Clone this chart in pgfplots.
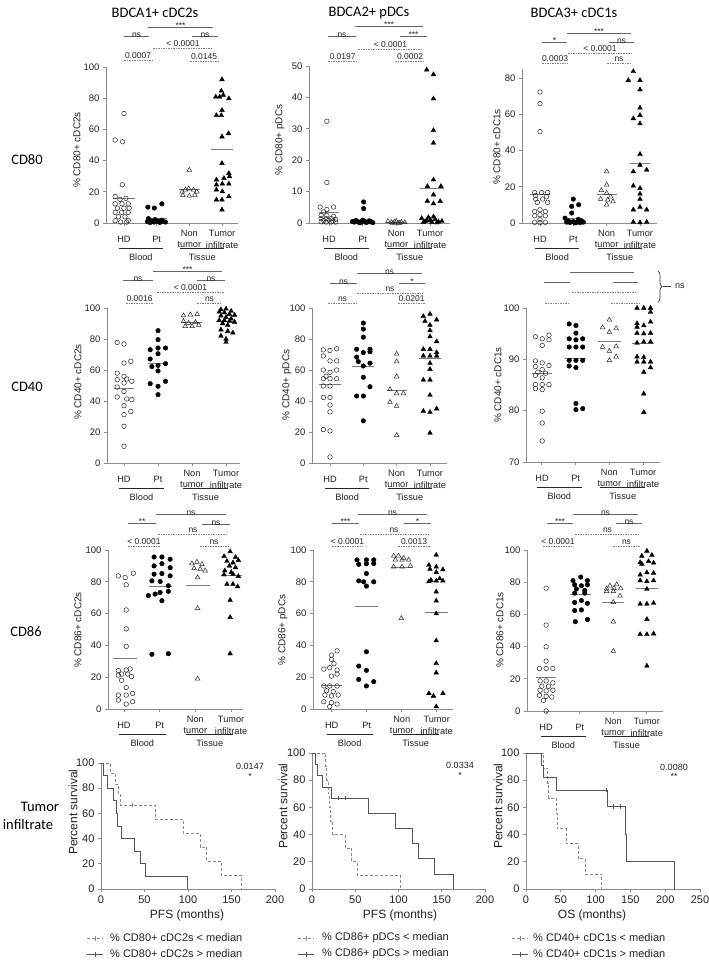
\documentclass[border=0pt]{standalone}
\usepackage{pgfplots}
\pgfplotsset{compat=1.18}
\usepackage{fontspec}
\setmainfont{Liberation Sans}
\newfontfamily\calib{Carlito}
\usetikzlibrary{decorations.pathreplacing}
\definecolor{axgray}{HTML}{8C8C8C}
\definecolor{txt}{HTML}{222222}
\definecolor{medgray}{HTML}{7A7A7A}
\definecolor{kmsolid}{HTML}{555555}
\definecolor{kmdash}{HTML}{8A8A8A}
\pgfplotsset{
  base/.style={scale only axis, anchor=south west, axis x line*=bottom, axis y line*=left,
    axis line style={-, draw=axgray, line width=0.8pt},
    tick style={draw=axgray, line width=0.8pt}, tick align=outside, major tick length=3pt,
    clip=false, /pgf/number format/assume math mode=true,
    tick label style={text=txt}},
  dot/.style={base, xtick={0,1,2,3}, xticklabels={}, yticklabel style={font=\fontsize{9.5}{10}\selectfont}},
  km/.style={base, xmin=0, ymin=0, ymax=100, ytick={0,20,...,100},
    tick label style={font=\fontsize{11}{12}\selectfont}},
  hd/.style={only marks, black, mark=o, mark size=2.3pt, mark options={draw=black!85, line width=0.5pt}},
  ptp/.style={only marks, black, mark=*, mark size=2.3pt, mark options={fill=black, draw=black}},
  nt/.style={only marks, black, mark=triangle, mark size=2.7pt, mark options={draw=black!85, line width=0.5pt}},
  tu/.style={only marks, black, mark=triangle*, mark size=2.7pt, mark options={fill=black, draw=black}},
  med/.style={draw=medgray, line width=0.7pt, mark=none},
  kms/.style={const plot, draw=kmsolid, line width=0.8pt, mark=none},
  kmd/.style={const plot, draw=kmdash, line width=0.8pt, dash pattern=on 3pt off 2pt, mark=none},
  cens/.style={only marks, mark=|, mark size=2.2pt, mark options={line width=0.6pt, solid}},
}
\tikzset{
  sigline/.style={draw=black!60, line width=0.6pt},
  sigdash/.style={draw=black!50, line width=0.6pt, dash pattern=on 1.5pt off 1pt},
  ann/.style={font=\fontsize{8.5}{9}\selectfont, text=txt, inner sep=0pt},
  xl/.style={font=\fontsize{9.2}{10}\selectfont, text=txt, inner sep=0pt},
  grp/.style={draw=black!85, line width=1pt},
  ylab/.style={rotate=90, font=\fontsize{10}{11}\selectfont, text=txt, inner sep=0pt},
  ttl/.style={font=\calib\fontsize{14.5}{16}\selectfont, text=black, inner sep=0pt},
}
\newcommand{\sigs}[4]{\draw[sigline] (#1,#3) -- (#2,#3); \node[ann, anchor=base] at ({(#1+#2)/2},{#3+1}) {#4};}
\newcommand{\sigd}[4]{\draw[sigdash] (#1,#3) -- (#2,#3); \node[ann, anchor=base] at ({(#1+#2)/2},{#3-1.5}) {#4};}
\newcommand{\catlab}[3]{%
  \node[xl] at (#2,{#1+16}) {HD};
  \node[xl] at ({#2+#3},{#1+16}) {Pt};
  \node[xl] at ({#2+2*#3},{#1+10.5}) {Non};
  \node[xl] at ({#2+2*#3},{#1+22}) {tumor};
  \node[xl] at ({#2+3*#3},{#1+10.5}) {Tumor};
  \node[xl] at ({#2+3*#3},{#1+22}) {infiltrate};
  \draw[grp] ({#2-5},{#1+25}) -- ({#2+#3+6},{#1+25});
  \draw[grp] ({#2+2*#3-9},{#1+25}) -- ({#2+3*#3+2},{#1+25});
  \node[xl] at ({#2+#3/2+0.5},{#1+34}) {Blood};
  \node[xl] at ({#2+2.5*#3-3.5},{#1+34}) {Tissue};}
\begin{document}
\begin{tikzpicture}
\useasboundingbox (0pt,0pt) rectangle (709pt,-962pt);
% ---------------- Row 1: CD80 ----------------
\begin{axis}[dot, at={(106pt,-223pt)}, width=132pt, height=156pt, xmin=-0.55, xmax=3.49, ymin=0, ymax=100, ytick={0,20,...,100}]
\addplot[hd] coordinates {(0,70.2) (-0.27,53.2) (-0.04,52.1) (-0.05,24.5) (-0.27,17) (-0.12,15.2) (0.06,15.8) (-0.27,12.3) (-0.06,12.3) (0.13,12.3) (-0.2,9.5) (0,9.5) (0.16,9.5) (-0.27,6.8) (-0.07,6.8) (0.13,6.8) (-0.17,4) (0.03,4) (-0.27,1.5) (0.13,1.5) (-0.1,0.6) (0.08,0.6)};
\addplot[med] coordinates {(-0.33,15.5) (0.33,15.5)};
\addplot[ptp] coordinates {(0.73,10.2) (0.93,9.6) (1.16,12.3) (0.75,2.8) (0.85,1.2) (0.95,2.2) (1.05,0.8) (1.15,1.8) (1.27,0.6) (0.8,0.3) (0.92,0.6) (1.0,1.5) (1.1,0.4) (1.2,1.0) (0.72,0.9)};
\addplot[med] coordinates {(0.67,2.8) (1.33,2.8)};
\addplot[nt] coordinates {(2,34) (1.78,20) (1.88,21.3) (1.98,22) (2.13,21.3) (2.23,20) (1.8,17.7) (2,17.4) (2.17,18)};
\addplot[med] coordinates {(1.67,21.7) (2.33,21.7)};
\addplot[tu] coordinates {(3,92) (2.98,84.7) (2.81,80.9) (2.93,80.9) (3.04,82) (3.21,79.8) (3,72.3) (2.83,69) (2.98,69) (3,55.3) (3.2,57.4) (3,38.3) (2.83,27.7) (3.06,28.7) (3.21,31.9) (3.23,29.8) (2.83,24.5) (3.01,25.1) (3.21,25.1) (2.83,21.3) (3.01,20.2) (2.83,14.9) (3,14.9) (3.21,17) (3,8.5)};
\addplot[med] coordinates {(2.67,47.2) (3.33,47.2)};
\end{axis}
\begin{axis}[dot, at={(309pt,-223pt)}, width=141pt, height=157pt, xmin=-0.59, xmax=3.59, ymin=0, ymax=50, ytick={0,10,...,50}]
\addplot[hd] coordinates {(-0.06,32.4) (-0.06,12.9) (-0.26,5.1) (-0.06,4.3) (0.14,5.1) (-0.16,3.5) (-0.23,2.4) (-0.06,2.4) (0.14,2.1) (-0.23,1.4) (-0.08,1.4) (0.07,1.4) (0.2,1.2) (-0.23,0.4) (-0.08,0.3) (0.07,0.3) (0.2,0.3) (-0.15,0.8) (0,0.9) (0.12,0.6)};
\addplot[med] coordinates {(-0.3,3.3) (0.3,3.3)};
\addplot[ptp] coordinates {(1.03,6.7) (1.03,4.6) (0.75,0.3) (0.85,0.5) (0.95,0.2) (1.05,0.6) (1.15,0.3) (1.25,0.4) (0.8,0.8) (0.9,0.1) (1,0.9) (1.1,0.2) (1.2,0.7) (1.3,0.1) (0.7,0.5)};
\addplot[med] coordinates {(0.7,0.4) (1.3,0.4)};
\addplot[nt] coordinates {(1.75,0.6) (1.85,0.2) (1.95,0.4) (2.05,0.1) (2.15,0.3) (2.25,0.2) (1.9,0) (2,0.5) (2.1,0)};
\addplot[med] coordinates {(1.7,0.2) (2.3,0.2)};
\addplot[tu] coordinates {(2.9,48.8) (3.1,47.3) (3.1,39.6) (3.1,29.5) (3.1,25.5) (3.1,13.8) (2.92,11.7) (3.32,11.7) (3.1,9) (2.92,7) (3.1,6.2) (3.3,6.9) (2.75,1.5) (2.85,0.5) (2.95,1.8) (3.05,0.3) (3.15,1.2) (3.25,0.4) (2.8,0.2) (3,0.9) (3.1,2) (3.2,0.1) (3.35,0.6) (2.9,0.8)};
\addplot[med] coordinates {(2.7,11.1) (3.42,11.1)};
\end{axis}
\begin{axis}[dot, at={(522pt,-223pt)}, width=135pt, height=154pt, xmin=-0.54, xmax=3.51, ymin=0, ymax=85, ytick={0,20,...,80}]
\addplot[hd] coordinates {(0,72.3) (0,65.9) (0,50.4) (-0.16,16.8) (0.05,16.8) (0.23,16.8) (-0.13,15.2) (0.19,14.5) (-0.13,13.2) (0.08,13.2) (0.23,11.4) (-0.08,11.4) (0,7.3) (-0.16,6.4) (0.16,6.4) (0,4.6) (-0.16,4) (0.16,4) (0,1.8) (-0.16,0.4) (0.16,0.4) (0,0.2)};
\addplot[med] coordinates {(-0.3,15.6) (0.3,15.6)};
\addplot[ptp] coordinates {(1,13.2) (0.95,9.2) (1.16,10.1) (0.95,5.5) (0.75,2.7) (1.15,2) (0.8,0.5) (0.9,0.3) (1,0.8) (1.1,0.4) (1.2,0.2) (1.25,1) (0.85,1.2) (1.05,0.1) (1.3,0.5)};
\addplot[med] coordinates {(0.7,2.7) (1.3,2.7)};
\addplot[nt] coordinates {(2,28.4) (2,21.1) (1.84,18) (2,16.5) (1.82,13.2) (2.03,12.8) (2.19,11.9) (2,10.1) (2.12,14.5)};
\addplot[med] coordinates {(1.7,15.9) (2.3,15.9)};
\addplot[tu] coordinates {(2.8,83.7) (2.65,78.8) (3,78.8) (3,73.6) (3,63.6) (3,59.5) (2.8,57.7) (3,54.9) (3,38) (3,32) (2.8,28.4) (3.2,29.3) (2.8,20.5) (3,19.2) (3,16.1) (3,13.2) (2.8,7.3) (3,8.8) (3.2,7.3) (2.8,0.5) (3,0.2) (3.2,0.5)};
\addplot[med] coordinates {(2.7,33) (3.3,33)};
\end{axis}
% ---------------- Row 2: CD40 ----------------
\begin{axis}[dot, at={(107pt,-463pt)}, width=133pt, height=155pt, xmin=-0.5, xmax=3.41, ymin=0, ymax=100, ytick={0,20,...,100}]
\addplot[hd] coordinates {(-0.2,77.8) (0,76.8) (0,64.5) (0.2,65.6) (-0.2,58) (0,55.9) (-0.2,53.8) (0.08,54.2) (0.23,52.7) (-0.2,49) (0,51.6) (0,46.2) (-0.2,42.6) (0.08,41.3) (0.23,40.9) (0,37) (0,31.2) (0.2,33.3) (0,23.7) (0,10.8)};
\addplot[med] coordinates {(-0.3,48.4) (0.3,48.4)};
\addplot[ptp] coordinates {(1,85.4) (1,79.6) (0.77,73.1) (1,74.2) (1.22,74.2) (1,70.5) (0.77,67.1) (0.82,62.2) (1,63) (1.22,64.1) (1,59.4) (0.77,51.2) (1.22,52.7) (1,49.5) (1,44.1)};
\addplot[med] coordinates {(0.7,64.1) (1.3,64.1)};
\addplot[nt] coordinates {(1.75,95.1) (1.95,95.7) (2.15,96) (1.75,91.4) (1.9,90.3) (2.1,90.8) (1.8,88.2) (2,88.2) (2.2,89)};
\addplot[med] coordinates {(1.7,90.8) (2.3,90.8)};
\addplot[tu] coordinates {(2.85,99) (3,99.5) (3.15,98) (2.8,97.5) (2.95,97) (3.1,96) (3.25,95.5) (2.85,95) (3,94) (3.15,93) (2.8,92) (2.95,92) (3.1,91.5) (3.25,91) (2.9,90) (3.05,89) (2.85,86) (3.05,85) (3.2,84) (2.85,82) (3,80) (3,78)};
\addplot[med] coordinates {(2.7,91.7) (3.3,91.7)};
\end{axis}
\begin{axis}[dot, at={(312pt,-463pt)}, width=135pt, height=155pt, xmin=-0.54, xmax=3.51, ymin=0, ymax=100, ytick={0,20,...,100}]
\addplot[hd] coordinates {(-0.2,73) (0,72.6) (0.2,73.7) (-0.2,69.1) (0,65.9) (0.2,65.9) (-0.2,60) (0,58.5) (0.2,60) (-0.12,56) (-0.2,54.4) (0,54.4) (0.2,54.4) (-0.2,49.7) (0,49.7) (-0.2,42.3) (0,42.3) (0,37.4) (0,33) (-0.2,21.6) (0,20.7) (0,3.9)};
\addplot[med] coordinates {(-0.33,50.8) (0.33,50.8)};
\addplot[ptp] coordinates {(1,90.3) (1,86.4) (1,81.2) (0.8,73.4) (1.2,73.4) (1.2,71.8) (1,71.3) (0.8,68.3) (0.85,65.4) (1.2,64.4) (1,62.6) (1,55.3) (1.2,49.2) (0.8,43.2) (1,43.2) (1,27.2)};
\addplot[med] coordinates {(0.67,62.6) (1.33,62.6)};
\addplot[nt] coordinates {(2,70.4) (2,65.4) (2,55.7) (1.8,47.5) (2,44.9) (2.2,44.9) (1.8,39.3) (2,36.7) (2,17.9)};
\addplot[med] coordinates {(1.7,47) (2.3,47)};
\addplot[tu] coordinates {(2.8,94.6) (3,96.1) (3.2,92.4) (3,89) (3,85.5) (3,81.6) (3.2,78.4) (2.8,73.4) (3,73.4) (3.2,71.3) (2.8,69.1) (3,69.1) (3.2,69.1) (3,64.4) (3,60.5) (2.8,53.6) (3,53.6) (3,43.8) (2.8,33.5) (3,32.8) (3.2,35) (3,19.4) (2.85,91.5)};
\addplot[med] coordinates {(2.67,67.4) (3.33,67.4)};
\end{axis}
\begin{axis}[dot, at={(526pt,-462pt)}, width=134pt, height=154pt, xmin=-0.47, xmax=3.5, ymin=70, ymax=100, ytick={70,80,90,100}]
\addplot[hd] coordinates {(-0.19,94.4) (0.01,94) (0.21,94.7) (0.21,93.8) (0.01,92.7) (-0.19,89.7) (0.01,89.3) (0.21,88.8) (-0.19,88.6) (0.01,88) (-0.12,87.5) (0.11,87.3) (-0.19,86.9) (0.01,86.4) (-0.19,85.1) (0.01,85.1) (0.21,85.1) (-0.19,84.3) (0.01,84.1) (0.01,79.9) (0.01,77.6) (0.01,74.1)};
\addplot[med] coordinates {(-0.3,87.3) (0.3,87.3)};
\addplot[ptp] coordinates {(0.81,96.9) (1.01,96.6) (1.01,95.1) (0.81,94) (1.01,93.8) (1.21,94) (0.81,92.4) (1.01,92.4) (1.21,92.4) (0.81,89.8) (1.01,89.8) (1.21,89.8) (1.01,88.4) (0.81,88.7) (1.01,81.4) (1.01,80.2) (1.21,80.4)};
\addplot[med] coordinates {(0.7,90.1) (1.3,90.1)};
\addplot[nt] coordinates {(2,97.7) (1.8,96.2) (2,95.3) (2.2,96) (1.8,92.4) (2,91.6) (2.2,92.5) (2,89.8) (2.2,90.5)};
\addplot[med] coordinates {(1.67,93.6) (2.33,93.6)};
\addplot[tu] coordinates {(2.82,100) (3.02,100) (3.22,100) (3.22,99.2) (2.82,97) (3.22,97.3) (2.82,96.3) (3.02,96.6) (2.82,95.1) (3.02,95) (3.22,95.1) (2.82,93.2) (3.02,93.4) (3.22,93.4) (2.82,90.5) (3.02,90.4) (2.82,89.5) (3.02,89.5) (3.22,89.5) (3.22,88.4) (3.02,87.5) (3.02,83.3) (3.02,79.7)};
\addplot[med] coordinates {(2.67,93.2) (3.33,93.2)};
\end{axis}
% ---------------- Row 3: CD86 ----------------
\begin{axis}[dot, at={(108pt,-709pt)}, width=135pt, height=159pt, xmin=-0.45, xmax=3.33, ymin=0, ymax=100, ytick={0,20,...,100}]
\addplot[hd] coordinates {(-0.16,83.75) (0.03,82.7) (0.26,85.4) (0.06,78.1) (0.06,62.3) (0.06,50.4) (0.06,39.4) (-0.16,24.2) (0.06,24.5) (0.17,25.2) (-0.07,22) (0.1,22) (-0.16,21.3) (0.21,20.4) (-0.07,18.1) (0.06,13.5) (-0.16,8.75) (0.06,8.75) (0.24,9.8) (-0.16,5.6) (0.06,3.1) (0.24,4.6)};
\addplot[med] coordinates {(-0.3,32.1) (0.35,32.1)};
\addplot[ptp] coordinates {(0.84,95.6) (1.06,95.6) (1.29,94.2) (0.84,90) (1.06,91.4) (1.29,88.9) (0.84,84.8) (1.06,85.2) (1.29,83.75) (0.78,80.6) (1.01,80.2) (1.24,77.5) (0.68,71.3) (0.87,72.3) (1.01,73.3) (1.24,74) (1.06,68.1) (0.78,34.4) (1.24,34.8)};
\addplot[med] coordinates {(0.7,77.1) (1.35,77.1)};
\addplot[nt] coordinates {(1.9,91.5) (2.04,92.5) (2.18,91) (1.96,88.5) (2.13,88) (2.27,87) (2.06,82.7) (2.06,63.3) (2.06,19)};
\addplot[med] coordinates {(1.72,77.5) (2.4,77.5)};
\addplot[tu] coordinates {(2.97,99) (2.8,96) (3.12,95.5) (2.88,93) (3.05,92) (3.2,93.5) (2.95,90) (3.12,89) (2.82,87) (3,86) (2.8,84.5) (3.05,84.8) (3.2,83.5) (2.88,78.5) (3.05,78.5) (3.18,77) (2.97,68.5) (2.97,57.7) (2.97,34.8)};
\addplot[med] coordinates {(2.7,83.75) (3.3,83.75)};
\end{axis}
\begin{axis}[dot, at={(313pt,-709pt)}, width=140pt, height=159pt, xmin=-0.53, xmax=3.48, ymin=0, ymax=100, ytick={0,20,...,100}]
\addplot[hd] coordinates {(0.16,36.6) (0,33.9) (0,31.2) (-0.22,25.1) (0.16,24.5) (-0.05,26) (0.07,28.5) (0,20.7) (0.16,22) (-0.22,14.5) (-0.05,14.5) (0.16,14.5) (-0.14,11.5) (0.05,10.9) (-0.19,8.8) (0,8.2) (0.19,8.8) (-0.22,4.6) (0,4) (0.16,3.1) (-0.05,1.5)};
\addplot[med] coordinates {(-0.3,15.1) (0.3,15.1)};
\addplot[ptp] coordinates {(0.73,93.8) (1,93.8) (1.21,93.8) (1,91.3) (0.78,91) (1.21,91.5) (1,85.2) (0.78,80.6) (0.92,80) (1.21,80) (1,77.3) (1,36) (0.78,27) (1,24.3) (0.78,18.6) (1.21,17.2) (1,14.5)};
\addplot[med] coordinates {(0.67,64.7) (1.33,64.7)};
\addplot[nt] coordinates {(1.78,96.3) (1.92,96.3) (2.07,94.9) (1.83,93.8) (2.02,93.8) (2.21,93.8) (1.78,89.4) (2.02,89.4) (2.26,90) (2,57)};
\addplot[med] coordinates {(1.7,89) (2.3,89)};
\addplot[tu] coordinates {(3,96.9) (2.79,90.5) (3,89.4) (3.19,87.7) (2.82,88) (3,86) (2.85,81) (3,80.6) (3.19,80.6) (2.79,80.2) (3.1,82) (3,73.7) (3,68) (3,60) (3,43) (3,28.7) (3,22.8) (2.79,9.8) (2.92,8.2) (3.19,9.8) (3,1.5)};
\addplot[med] coordinates {(2.67,60.5) (3.33,60.5)};
\end{axis}
\begin{axis}[dot, at={(527pt,-711pt)}, width=136pt, height=161pt, xmin=-0.57, xmax=3.48, ymin=0, ymax=100, ytick={0,20,...,100}]
\addplot[hd] coordinates {(0,76.3) (0,53.4) (0,39.9) (0,31) (-0.2,26.4) (0,26.4) (0.2,26.4) (-0.18,18.7) (0,18.7) (0.2,17.5) (-0.13,15.4) (0.07,15.4) (-0.18,12.9) (0,12.5) (0.2,12.9) (-0.2,9.8) (0,9.1) (0.17,8.7) (-0.08,6.6) (0,0)};
\addplot[med] coordinates {(-0.3,20.6) (0.3,20.6)};
\addplot[ptp] coordinates {(1.03,83.2) (0.8,81) (1.23,81) (0.85,78.4) (1.05,77.8) (1.23,78.4) (0.9,75.8) (1.15,74.9) (0.85,73.2) (1.15,73.2) (0.85,67.4) (1.05,68.6) (1.23,66.9) (0.85,62.4) (1.05,62.8) (0.87,55.5) (1.23,56.8)};
\addplot[med] coordinates {(0.7,72.6) (1.33,72.6)};
\addplot[nt] coordinates {(1.9,77.8) (2.1,78.5) (1.8,75.9) (2.02,76.3) (2.22,76.1) (1.8,74.3) (2,74.3) (2.2,71.5) (2,67.6) (2,55.5) (2,37.2)};
\addplot[med] coordinates {(1.67,67.6) (2.33,67.6)};
\addplot[tu] coordinates {(3,99.4) (2.85,96.3) (3.15,96.8) (2.85,91.3) (3.05,93) (3.2,92) (2.8,92.3) (3,86) (3.2,85.7) (2.8,84.6) (2.8,81) (3,80.5) (3.2,81) (3,75.7) (2.8,66.5) (3,66.5) (3.2,67) (3,57) (2.8,47.6) (3,47.6) (3.2,48) (3,28)};
\addplot[med] coordinates {(2.67,76.3) (3.33,76.3)};
\end{axis}
% ---------------- Row 4: survival ----------------
\begin{axis}[km, at={(101pt,-889pt)}, width=174pt, height=126pt, xmax=200, xtick={0,50,...,200}]
\addplot[kmd] coordinates {(0,100) (10.8,91.7) (16.5,83.3) (20,75) (22.2,66.7) (62.2,55.6) (94.6,44.4) (113.7,33.3) (121.4,22.2) (138.5,11.1) (161.5,0)};
\addplot[cens, kmdash] coordinates {(35.6,66.7)};
\addplot[kms] coordinates {(0,100) (3,90) (7,80) (14.5,70) (17.2,60) (19,50) (23,40) (38.6,30) (45,20) (50.8,10) (99.6,0)};
\end{axis}
\begin{axis}[km, at={(312pt,-889pt)}, width=173pt, height=136pt, xmax=200, xtick={0,50,...,200}]
\addplot[kmd] coordinates {(0,100) (16,90) (17,80) (18.5,70) (20,60) (21,50) (24,40) (38.4,30) (46,20) (52,10) (101.8,0)};
\addplot[kms] coordinates {(0,100) (3.8,91.7) (6.5,83.3) (11.5,75) (23,66.7) (65.3,55.6) (96.9,44.4) (116.5,33.3) (123,22.2) (141,11.1) (163.4,0)};
\addplot[cens, kmsolid] coordinates {(30,66.7) (38.4,66.7)};
\end{axis}
\begin{axis}[km, at={(526pt,-889pt)}, width=174pt, height=136pt, xmax=250, xtick={0,50,...,250}]
\addplot[kmd] coordinates {(0,100) (25.3,88.9) (31,77.8) (32.4,66.7) (43.4,55.6) (44.4,44.4) (57.7,33.3) (75.4,22.2) (85,11.1) (108.9,0)};
\addplot[kms] coordinates {(0,100) (21.9,90.9) (24.3,81.8) (43.4,72.7) (117.4,60.6) (143,40.4) (144,20.2) (213.9,0)};
\addplot[cens, kmsolid] coordinates {(116,72.7) (125.5,60.6) (135,60.6)};
\end{axis}
% ---------------- annotations ----------------
\begin{scope}[x=1pt,y=-1pt]
\node[ttl] at (155,13) {BDCA1+ cDC2s};
\node[ttl] at (369,13) {BDCA2+ pDCs};
\node[ttl] at (574,13) {BDCA3+ cDC1s};
\node[ttl] at (27,160) {CD80};
\node[ttl] at (27,387) {CD40};
\node[ttl] at (26,632) {CD86};
\node[ttl] at (40,807) {Tumor};
\node[ttl] at (28,825) {infiltrate};
% y labels
\node[ylab] at (77,150) {\% CD80+ cDC2s};
\node[ylab] at (280,140) {\% CD80+ pDCs};
\node[ylab] at (497,147) {\% CD80+ cDC1s};
\node[ylab] at (78,382) {\% CD40+ cDC2s};
\node[ylab] at (287,385) {\% CD40+ pDCs};
\node[ylab] at (498,385) {\% CD40+ cDC1s};
\node[ylab] at (78,630) {\% CD86+ cDC2s};
\node[ylab] at (283,630) {\% CD86+ pDCs};
\node[ylab] at (500,630) {\% CD86+ cDC1s};
\node[ylab, font=\fontsize{12}{13}\selectfont] at (73,812) {Percent survival};
\node[ylab, font=\fontsize{12}{13}\selectfont] at (283,806) {Percent survival};
\node[ylab, font=\fontsize{12}{13}\selectfont] at (498,806) {Percent survival};
% category labels
\catlab{223}{124}{32.7}
\catlab{223}{329}{33.7}
\catlab{223}{540}{33.3}
\catlab{463}{124}{34}
\catlab{463}{330}{33.3}
\catlab{462}{542}{33.7}
\catlab{709}{124}{35.7}
\catlab{709}{331.7}{35}
\catlab{711}{546}{33.6}
% significance P1
\sigs{148}{213}{27}{***}
\sigs{124}{149}{36}{ns}
\sigs{192}{218}{36}{ns}
\sigd{153}{213}{48}{< 0.0001}
\sigd{124}{152}{60}{0.0007}
\sigd{190}{218}{61}{0.0145}
% P2
\sigs{355}{423}{26}{***}
\sigs{328}{356}{36}{ns}
\sigs{400}{427}{36}{***}
\sigd{358}{423}{49}{< 0.0001}
\sigd{328}{357}{61}{0.0197}
\sigd{395}{425}{61}{0.0002}
% P3
\sigs{567}{631}{33}{***}
\sigs{542}{567}{42}{*}
\sigs{609}{634}{42}{ns}
\sigd{568}{632}{53}{< 0.0001}
\sigd{542}{568}{63}{0.0003}
\sigd{607}{631}{63}{ns}
% P4
\sigs{153}{222}{271}{***}
\sigs{123}{153}{280}{ns}
\sigs{197}{225}{280}{ns}
\sigd{157}{224}{292}{< 0.0001}
\sigd{126}{153}{303}{0.0016}
\sigd{197}{222}{303}{ns}
% P5
\sigs{357}{422}{273}{ns}
\sigs{330}{357}{283}{ns}
\sigs{399}{425}{283}{*}
\sigd{357}{423}{293}{ns}
\sigd{328}{357}{303}{ns}
\sigd{398}{425}{303}{0.0201}
% P6
\draw[sigline] (570,272) -- (634,272);
\draw[sigline] (544,282) -- (570,282);
\draw[sigline] (613,282) -- (638,282);
\draw[sigdash] (572,292) -- (636,292);
\draw[sigdash] (545,303) -- (569,303);
\draw[sigdash] (611,303) -- (640,303);
\draw[black!80, line width=0.7pt, decorate, decoration={brace, amplitude=4pt}] (658,271) -- (658,302);
\draw[black!80, line width=0.7pt] (663,286.5) -- (671,286.5);
\node[ann, font=\fontsize{9}{10}\selectfont, anchor=west] at (675,286.5) {ns};
% P7
\sigs{156}{226}{514}{ns}
\sigs{128}{156}{523}{**}
\sigs{202}{230}{524}{ns}
\sigd{158}{228}{534}{ns}
\sigd{128}{160}{546}{< 0.0001}
\sigd{200}{228}{546}{ns}
% P8
\sigs{358}{427}{514}{ns}
\sigs{332}{359}{523}{***}
\sigs{404}{431}{523}{*}
\sigd{360}{428}{534}{ns}
\sigd{332}{363}{546}{< 0.0001}
\sigd{398}{430}{546}{0.0013}
% P9
\sigs{573}{638}{514}{ns}
\sigs{547}{573}{523}{***}
\sigs{616}{642}{523}{ns}
\sigd{575}{640}{534}{ns}
\sigd{543}{573}{546}{< 0.0001}
\sigd{613}{640}{546}{ns}
% KM texts
\node[ann, font=\fontsize{9}{10}\selectfont] at (250,766) {0.0147};
\node[ann, font=\fontsize{9}{10}\selectfont] at (250,776) {*};
\node[ann, font=\fontsize{9}{10}\selectfont] at (460,765) {0.0334};
\node[ann, font=\fontsize{9}{10}\selectfont] at (460,775) {*};
\node[ann, font=\fontsize{9}{10}\selectfont] at (674,767) {0.0080};
\node[ann, font=\fontsize{9}{10}\selectfont] at (674,776) {**};
\node[xl, font=\fontsize{12}{13}\selectfont] at (187,915) {PFS (months)};
\node[xl, font=\fontsize{12}{13}\selectfont] at (400,915) {PFS (months)};
\node[xl, font=\fontsize{12}{13}\selectfont] at (592,915) {OS (months)};
% legends
\foreach \lx/\tx/\lab in {87/110/{\% CD80+ cDC2s}, 298/322/{\% CD86+ pDCs}, 512/533/{\% CD40+ cDC1s}} {
  \draw[kmdash, line width=0.8pt, dash pattern=on 3pt off 2pt] (\lx,938) -- (\lx+16,938);
  \draw[kmdash, line width=0.6pt] (\lx+8,935.5) -- (\lx+8,940.5);
  \node[xl, font=\fontsize{11}{12}\selectfont, anchor=west] at (\tx,938) {\lab{} < median};
  \draw[kmsolid, line width=0.8pt] (\lx,954) -- (\lx+16,954);
  \draw[kmsolid, line width=0.6pt] (\lx+8,951.5) -- (\lx+8,956.5);
  \node[xl, font=\fontsize{11}{12}\selectfont, anchor=west] at (\tx,954) {\lab{} > median};
}
\end{scope}
\end{tikzpicture}
\end{document}
